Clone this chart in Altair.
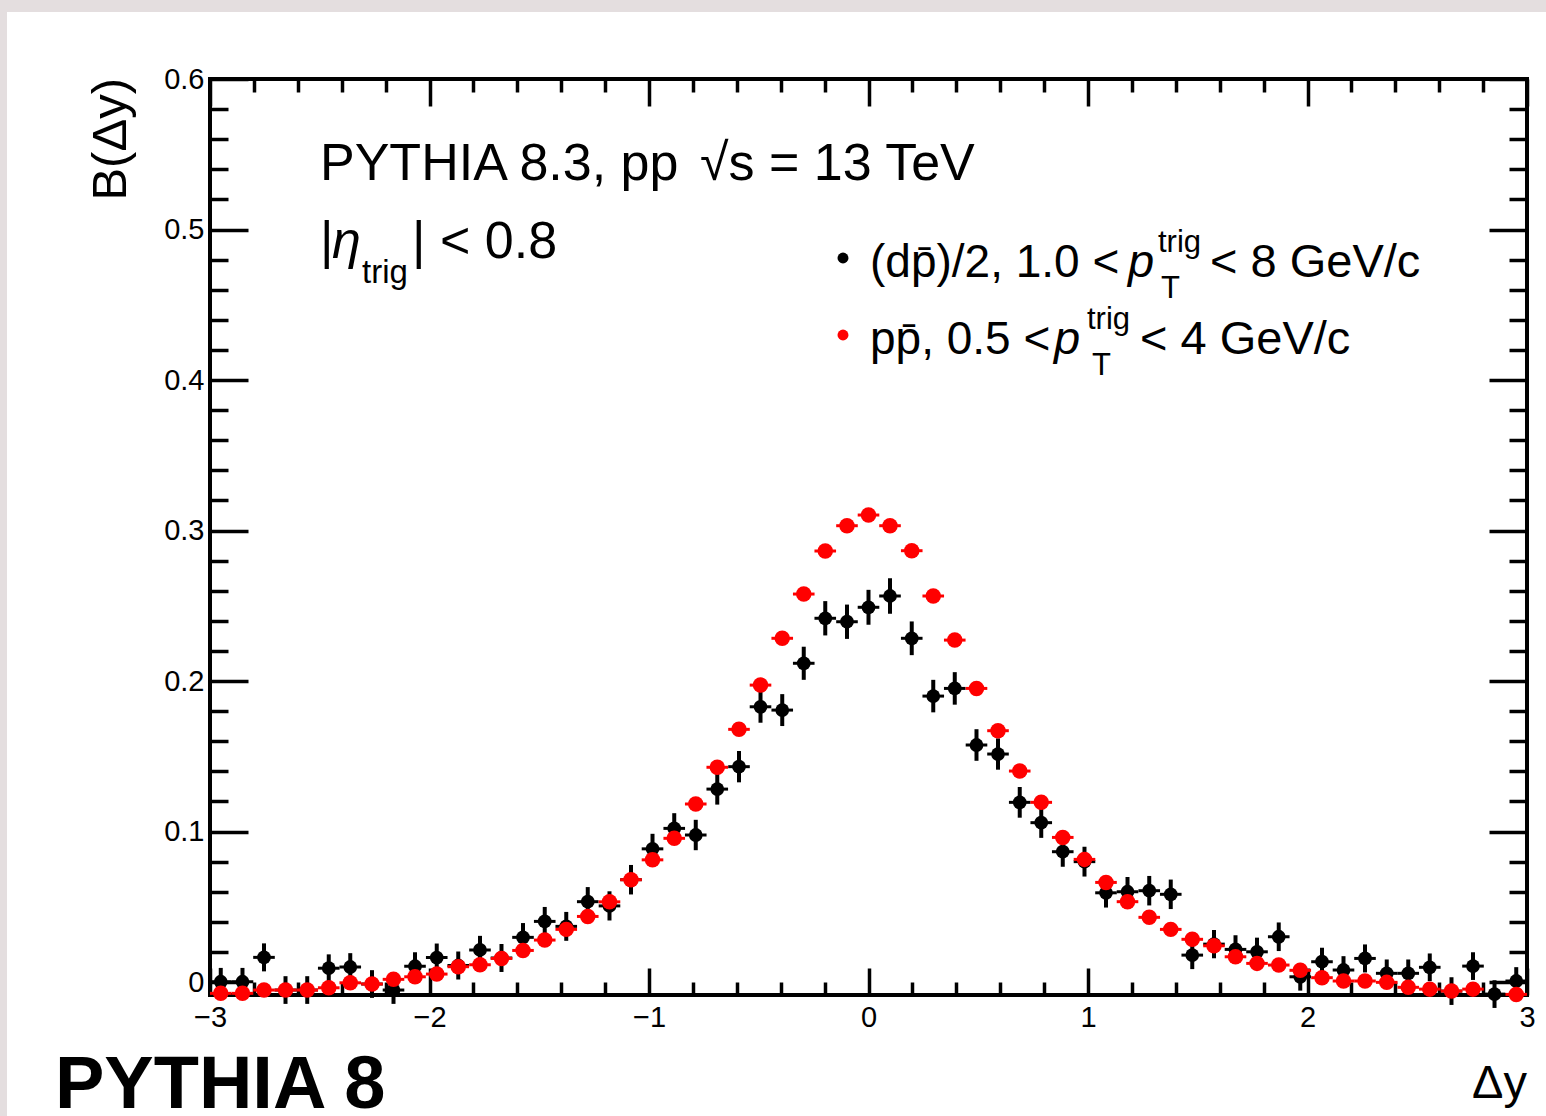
import altair as alt
import pandas as pd

# ---------------- data ----------------
dy_centers = [-2.951, -2.852, -2.754, -2.656, -2.557, -2.459, -2.361, -2.262, -2.164, -2.066,
              -1.967, -1.869, -1.770, -1.672, -1.574, -1.475, -1.377, -1.279, -1.180, -1.082,
              -0.984, -0.885, -0.787, -0.689, -0.590, -0.492, -0.393, -0.295, -0.197, -0.098,
              0.000, 0.098, 0.197, 0.295, 0.393, 0.492, 0.590, 0.689, 0.787, 0.885,
              0.984, 1.082, 1.180, 1.279, 1.377, 1.475, 1.574, 1.672, 1.770, 1.869,
              1.967, 2.066, 2.164, 2.262, 2.361, 2.459, 2.557, 2.656, 2.754, 2.852, 2.951]
bin_half_width = 0.0492

dpbar_vals = [0.0002, 0.0002, 0.0164, -0.0053, -0.0053, 0.0092, 0.0100, -0.0013, -0.0053, 0.0105,
              0.0163, 0.0110, 0.0213, 0.0160, 0.0297, 0.0403, 0.0370, 0.0534, 0.0506, 0.0680,
              0.0885, 0.1021, 0.0977, 0.1282, 0.1431, 0.1829, 0.1807, 0.2118, 0.2417, 0.2394,
              0.2490, 0.2565, 0.2284, 0.1900, 0.1951, 0.1575, 0.1515, 0.1194, 0.1059, 0.0866,
              0.0800, 0.0593, 0.0600, 0.0607, 0.0583, 0.0179, 0.0252, 0.0217, 0.0201, 0.0301,
              0.0035, 0.0135, 0.0080, 0.0157, 0.0058, 0.0058, 0.0098, -0.0060, 0.0106, -0.0080,
              0.0007]
dpbar_errs = [0.0092, 0.0092, 0.0093, 0.0092, 0.0092, 0.0092, 0.0092, 0.0092, 0.0092, 0.0093,
              0.0093, 0.0093, 0.0094, 0.0093, 0.0095, 0.0096, 0.0096, 0.0097, 0.0097, 0.0098,
              0.0100, 0.0101, 0.0101, 0.0103, 0.0104, 0.0106, 0.0106, 0.0110, 0.0114, 0.0114,
              0.0116, 0.0118, 0.0112, 0.0108, 0.0108, 0.0105, 0.0104, 0.0102, 0.0101, 0.0100,
              0.0099, 0.0098, 0.0098, 0.0098, 0.0098, 0.0093, 0.0094, 0.0094, 0.0094, 0.0095,
              0.0092, 0.0093, 0.0092, 0.0093, 0.0092, 0.0092, 0.0092, 0.0092, 0.0092, 0.0092,
              0.0092]
ppbar_vals = [-0.0075, -0.0075, -0.0053, -0.0053, -0.0053, -0.0038, -0.0005, -0.0013, 0.0018, 0.0035,
              0.0053, 0.0102, 0.0115, 0.0157, 0.0210, 0.0279, 0.0350, 0.0436, 0.0533, 0.0680,
              0.0812, 0.0955, 0.1183, 0.1427, 0.1679, 0.1973, 0.2284, 0.2578, 0.2864, 0.3032,
              0.3103, 0.3032, 0.2866, 0.2565, 0.2272, 0.1951, 0.1670, 0.1402, 0.1194, 0.0961,
              0.0815, 0.0662, 0.0534, 0.0430, 0.0350, 0.0284, 0.0241, 0.0168, 0.0124, 0.0113,
              0.0078, 0.0029, 0.0007, 0.0007, -0.0002, -0.0035, -0.0047, -0.0060, -0.0047, -0.0100,
              -0.0082]

x_major = [-3, -2, -1, 0, 1, 2, 3]
y_major = [0.0, 0.1, 0.2, 0.3, 0.4, 0.5, 0.6]
x_minor = [round(-3 + 0.2 * k, 2) for k in range(31) if k % 5 != 0]
y_minor = [round(0.02 * k, 2) for k in range(31) if k % 5 != 0]

YMIN, YMAX = -0.0086, 0.6
FONT = "Liberation Sans"

df = pd.DataFrame({"x": dy_centers, "black": dpbar_vals, "berr": dpbar_errs, "red": ppbar_vals})
df["xlo"] = df["x"] - bin_half_width
df["xhi"] = df["x"] + bin_half_width
df["blo"] = df["black"] - df["berr"]
df["bhi"] = df["black"] + df["berr"]

W, H = 1317, 916
xs = alt.Scale(domain=[-3, 3], nice=False, zero=False)
ys = alt.Scale(domain=[YMIN, YMAX], nice=False, zero=False)


def axis(orient, values, size, labels=False):
    kw = dict(orient=orient, values=values, tickSize=size, offset=-size, domain=False,
              grid=False, ticks=True, tickColor="black", tickWidth=3.5, title=None,
              labels=labels)
    if labels:
        kw.update(labelFont=FONT, labelFontSize=29, labelColor="black", labelOverlap=False,
                  labelFlush=False)
        if orient == "bottom":
            kw.update(labelPadding=8, labelExpr="format(datum.value, 'd')", labelBaseline="top")
        else:
            kw.update(labelPadding=6, labelBaseline="middle",
                      labelExpr="datum.value == 0 ? '0' : format(datum.value, '.1f')")
    return alt.Axis(**kw)


base = alt.Chart(df)

black_h = base.mark_rule(color="black", strokeWidth=3).encode(
    x=alt.X("xlo:Q", scale=xs, axis=axis("bottom", x_major, 27, labels=True)),
    x2="xhi:Q",
    y=alt.Y("black:Q", scale=ys, axis=axis("left", y_major, 38, labels=True)),
)
black_v = base.mark_rule(color="black", strokeWidth=4).encode(
    x=alt.X("x:Q", scale=xs, axis=axis("bottom", x_minor, 13)),
    y=alt.Y("blo:Q", scale=ys, axis=axis("left", y_minor, 18)),
    y2="bhi:Q",
)
black_p = base.mark_circle(color="black", opacity=1, size=190).encode(
    x=alt.X("x:Q", scale=xs, axis=axis("top", x_major, 27)),
    y=alt.Y("black:Q", scale=ys, axis=axis("right", y_major, 38)),
)
red_base = base.transform_filter(alt.datum.red >= YMIN)
red_h = red_base.mark_rule(color="#ff0000", strokeWidth=3).encode(
    x=alt.X("xlo:Q", scale=xs, axis=axis("top", x_minor, 13)),
    x2="xhi:Q",
    y=alt.Y("red:Q", scale=ys, axis=axis("right", y_minor, 18)),
)
red_p = red_base.mark_circle(color="#ff0000", opacity=1, size=240).encode(
    x=alt.X("x:Q", scale=xs, axis=None),
    y=alt.Y("red:Q", scale=ys, axis=None),
)

one = alt.Data(values=[{"k": 0}])


def txt(s, x, y, size=46, italic=False, bold=False, align="left", baseline="alphabetic", angle=0):
    kw = dict(font=FONT, fontSize=size, color="black", align=align, baseline=baseline)
    if italic:
        kw["fontStyle"] = "italic"
    if bold:
        kw["fontWeight"] = "bold"
    if angle:
        kw["angle"] = angle
    return alt.Chart(one).mark_text(**kw).encode(
        x=alt.value(x), y=alt.value(y), text=alt.value(s))


def band(x1, x2, y1, y2):
    return alt.Chart(one).mark_rect(color="#e4dedf").encode(
        x=alt.value(x1), x2=alt.value(x2), y=alt.value(y1), y2=alt.value(y2))


def dot(x, y, color):
    return alt.Chart(one).mark_circle(color=color, opacity=1, size=120).encode(
        x=alt.value(x), y=alt.value(y))


texts = [
    txt("PYTHIA 8.3, pp", 110, 101, size=52),
    txt("\u221As = 13 TeV", 490, 101, size=52),
    txt("|", 110, 179, size=52),
    txt("\u03B7", 122, 179, size=52, italic=True),
    txt("trig", 152, 204, size=33),
    txt("| < 0.8", 202, 179, size=52),
    # legend row 1
    txt("(dp\u0304)/2, 1.0 <", 660, 198, size=46),
    txt("p", 918, 198, size=47, italic=True),
    txt("trig", 948, 173, size=31),
    txt("T", 951, 219, size=31),
    txt("< 8 GeV/c", 1000, 198, size=47),
    # legend row 2
    txt("pp\u0304, 0.5 <", 660, 275, size=46),
    txt("p", 844, 275, size=47, italic=True),
    txt("trig", 877, 250, size=31),
    txt("T", 882, 296, size=31),
    txt("< 4 GeV/c", 930, 275, size=47),
    # axis titles & label
    txt("B(\u0394y)", -84, -1, size=49, align="right", angle=270),
    txt("\u0394y", 1317, 1019, size=47, align="right"),
    txt("PYTHIA 8", -155, 1029, size=74, bold=True),
]

chart = alt.layer(
    band(-210, 1336, -79, -67),
    band(-210, -203, -79, 1037),
    black_h, black_v, black_p, red_h, red_p,
    dot(633, 179, "black"), dot(633, 256, "#ff0000"),
    *texts,
).resolve_axis(x="independent", y="independent").properties(
    width=W, height=H,
    autosize=alt.AutoSizeParams(type="none"),
    padding={"left": 210, "top": 79, "right": 19, "bottom": 121},
    background="white",
).configure_view(stroke="black", strokeWidth=4, fill="white")

chart.save("out.html", embed_options={"renderer": "svg", "actions": False})
